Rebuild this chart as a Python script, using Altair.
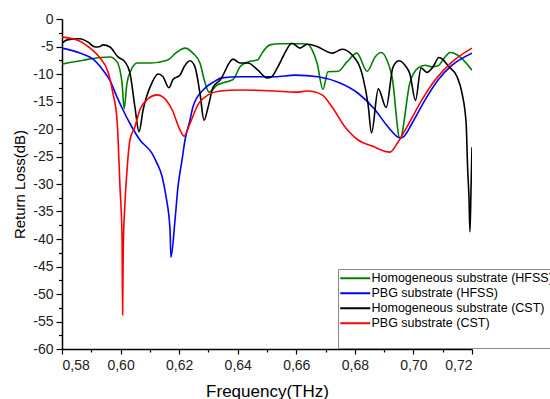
import altair as alt
import pandas as pd

series_names = [
    "Homogeneous substrate (HFSS)",
    "PBG substrate (HFSS)",
    "Homogeneous substrate (CST)",
    "PBG substrate (CST)",
]
series_colors = ["#008000", "#0000ff", "#000000", "#ff0000"]

green_f = [0.5800, 0.5872, 0.5930, 0.5964, 0.5988, 0.6005, 0.6012, 0.6022, 0.6036, 0.6056,
           0.6101, 0.6159, 0.6193, 0.6220, 0.6247, 0.6271, 0.6288, 0.6302, 0.6330, 0.6350,
           0.6384, 0.6408, 0.6435, 0.6469, 0.6483, 0.6510, 0.6544, 0.6623, 0.6640, 0.6654,
           0.6671, 0.6691, 0.6708, 0.6743, 0.6773, 0.6807, 0.6842, 0.6869, 0.6890, 0.6910,
           0.6927, 0.6954, 0.6988, 0.7016, 0.7040, 0.7063, 0.7084, 0.7108, 0.7125, 0.7149,
           0.7200]
green_db = [-8.2, -7.5, -7.0, -6.9, -7.8, -11.6, -16.3, -11.6, -9.3, -8.0,
            -8.0, -7.5, -6.0, -5.3, -6.2, -8.0, -11.5, -13.3, -12.0, -11.6,
            -11.0, -8.7, -7.8, -7.4, -6.2, -4.7, -4.5, -4.5, -4.6, -5.6,
            -8.0, -12.8, -9.6, -9.5, -7.8, -6.2, -9.5, -6.9, -6.1, -7.5,
            -10.5, -21.8, -11.6, -8.9, -8.4, -8.7, -8.5, -6.9, -6.1, -6.5,
            -9.3]

blue_f = [0.5800, 0.5861, 0.5906, 0.5940, 0.5964, 0.5988, 0.6008, 0.6032, 0.6066, 0.6107,
          0.6124, 0.6141, 0.6155, 0.6169, 0.6172, 0.6186, 0.6196, 0.6210, 0.6220, 0.6237,
          0.6247, 0.6282, 0.6316, 0.6346, 0.6408, 0.6527, 0.6596, 0.6674, 0.6743, 0.6811,
          0.6869, 0.6913, 0.6954, 0.6964, 0.6995, 0.7040, 0.7084, 0.7132, 0.7200]
blue_db = [-5.3, -6.2, -7.3, -9.3, -11.2, -14.2, -16.5, -19.0, -22.0, -24.4,
           -26.2, -28.5, -32.2, -38.4, -43.3, -36.5, -30.5, -25.6, -22.0, -18.4,
           -16.0, -12.9, -11.5, -10.7, -10.5, -10.5, -10.2, -10.5, -11.5, -13.5,
           -16.5, -19.6, -21.6, -21.5, -19.0, -14.7, -11.1, -8.4, -6.2]

black_f = [0.5800, 0.5817, 0.5861, 0.5889, 0.5913, 0.5930, 0.5940, 0.5964, 0.5991, 0.6015,
           0.6032, 0.6049, 0.6063, 0.6077, 0.6107, 0.6128, 0.6145, 0.6165, 0.6179, 0.6203,
           0.6217, 0.6237, 0.6254, 0.6271, 0.6285, 0.6299, 0.6316, 0.6340, 0.6384, 0.6408,
           0.6435, 0.6469, 0.6500, 0.6513, 0.6537, 0.6558, 0.6585, 0.6613, 0.6637, 0.6671,
           0.6708, 0.6725, 0.6756, 0.6790, 0.6828, 0.6845, 0.6857, 0.6880, 0.6907, 0.6930,
           0.6950, 0.6971, 0.6988, 0.7007, 0.7026, 0.7046, 0.7067, 0.7087, 0.7101, 0.7118,
           0.7149, 0.7166, 0.7180, 0.7185, 0.7190, 0.7193, 0.7197, 0.7200]
black_db = [-4.4, -3.8, -3.6, -4.2, -5.1, -5.0, -4.7, -5.1, -6.9, -7.8,
            -9.8, -16.0, -20.5, -16.5, -11.6, -10.0, -10.5, -12.5, -11.0, -10.2,
            -8.7, -7.6, -8.7, -13.5, -18.4, -16.0, -12.4, -11.1, -7.3, -8.0,
            -8.0, -9.3, -10.7, -10.6, -8.7, -6.5, -4.4, -5.3, -4.6, -5.0,
            -6.0, -6.2, -5.5, -6.5, -10.7, -15.5, -20.7, -12.7, -16.1, -8.8,
            -7.6, -8.4, -10.0, -14.8, -8.9, -9.7, -8.7, -7.0, -7.4, -8.5,
            -10.5, -13.5, -19.0, -27.0, -33.0, -38.7, -30.0, -23.3]

red_f = [0.5800, 0.5851, 0.5896, 0.5930, 0.5957, 0.5974, 0.5988, 0.5998, 0.6005, 0.6007,
         0.6009, 0.6015, 0.6022, 0.6032, 0.6049, 0.6066, 0.6094, 0.6124, 0.6145, 0.6176,
         0.6203, 0.6217, 0.6237, 0.6264, 0.6299, 0.6340, 0.6408, 0.6527, 0.6596, 0.6640,
         0.6688, 0.6722, 0.6766, 0.6811, 0.6859, 0.6920, 0.6947, 0.6978, 0.7029, 0.7074,
         0.7132, 0.7200]
red_db = [-3.3, -3.8, -5.3, -7.1, -9.6, -13.5, -18.4, -30.5, -39.6, -53.8,
          -42.0, -33.5, -27.5, -22.0, -19.6, -16.5, -14.5, -13.8, -14.2, -16.5,
          -20.2, -21.3, -19.0, -15.6, -13.8, -13.1, -12.9, -13.1, -13.3, -13.1,
          -13.8, -16.0, -19.6, -22.0, -23.1, -24.2, -22.4, -19.6, -14.7, -11.1,
          -7.8, -5.3]

x_major = [0.58, 0.60, 0.62, 0.64, 0.66, 0.68, 0.70, 0.72]
x_minor = [0.59, 0.61, 0.63, 0.65, 0.67, 0.69, 0.71]
y_major = [0, -5, -10, -15, -20, -25, -30, -35, -40, -45, -50, -55, -60]
y_minor = [-2.5, -7.5, -12.5, -17.5, -22.5, -27.5, -32.5, -37.5, -42.5, -47.5, -52.5, -57.5]

rows = []
for name, fs, ds in zip(series_names, [green_f, blue_f, black_f, red_f],
                        [green_db, blue_db, black_db, red_db]):
    for i, (f, d) in enumerate(zip(fs, ds)):
        rows.append({"series": name, "f": f, "db": d, "i": i})
df = pd.DataFrame(rows)

FONT = "Liberation Sans"
xscale = alt.Scale(domain=[0.58, 0.72], nice=False, zero=False)
yscale = alt.Scale(domain=[-60, 0], nice=False, zero=False)

lines = alt.Chart(df).mark_line(strokeWidth=1.6, interpolate="monotone", clip=True).encode(
    x=alt.X("f:Q", scale=xscale,
            axis=alt.Axis(values=x_major, orient="bottom", title="Frequency(THz)",
                          labelExpr="replace(format(datum.value, '.2f'), '.', ',')",
                          tickSize=5, labelPadding=4, titlePadding=11, titleFontSize=17,
                          grid=False)),
    y=alt.Y("db:Q", scale=yscale,
            axis=alt.Axis(values=y_major, orient="left", title="Return Loss(dB)",
                          labelExpr="'' + datum.value", titleFontSize=15,
                          tickSize=6, titlePadding=5, grid=False)),
    color=alt.Color("series:N",
                    scale=alt.Scale(domain=series_names, range=series_colors),
                    legend=alt.Legend(title=" ", titleOrient="bottom", titleFontSize=12,
                                      titlePadding=4)),
    order="i:Q",
    detail="series:N",
)

minor = alt.Chart(df).mark_line(strokeOpacity=0).encode(
    x=alt.X("f:Q", scale=xscale,
            axis=alt.Axis(values=x_minor, orient="bottom", title=None, labels=False,
                          domain=False, tickSize=3, grid=False)),
    y=alt.Y("db:Q", scale=yscale,
            axis=alt.Axis(values=y_minor, orient="left", title=None, labels=False,
                          domain=False, tickSize=3.5, grid=False)),
    detail="series:N",
)

chart = alt.layer(lines, minor).resolve_axis(x="independent", y="independent").properties(
    width=410, height=330,
    autosize=alt.AutoSizeParams(type="none"),
    padding={"left": 62, "top": 19, "right": 78, "bottom": 50},
    background="white",
).configure_view(stroke=None).configure_axis(
    domainColor="#000000", domainWidth=1.5, tickColor="#000000", tickWidth=1.2,
    labelFont=FONT, labelFontSize=14, labelColor="#222222", labelPadding=3,
    titleFont=FONT, titleFontWeight="normal", titleColor="#000000",
).configure_legend(
    orient="none", legendX=276, legendY=250,
    strokeColor="#888888", padding=3, fillColor="white",
    labelFont=FONT, labelFontSize=12.5, labelColor="#000000", labelLimit=400,
    labelOffset=10, rowPadding=2,
    symbolType="M-3,0H3", symbolSize=100, symbolOffset=8, symbolStrokeWidth=2,
)

chart.save("out.html", embed_options={"renderer": "svg", "actions": False})
